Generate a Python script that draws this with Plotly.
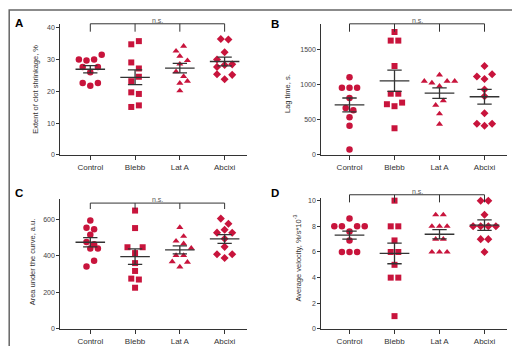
import numpy as np
import plotly.graph_objects as go

W, H = 520, 346

groups = ["Control", "Blebb", "Lat A", "Abcixi"]

# Panel A: extent of clot shrinkage, %
a_control = [30.0, 29.7, 30.0, 31.5, 27.7, 26.0, 27.7, 22.6, 21.8, 22.6]
a_blebb = [34.8, 35.8, 29.1, 27.2, 23.2, 24.6, 19.7, 19.2, 15.1, 15.6]
a_lata = [32.7, 34.2, 31.1, 29.7, 28.6, 26.2, 24.7, 22.6, 23.2, 20.2]
a_abcixi = [36.5, 36.3, 32.3, 30.0, 28.3, 27.7, 28.5, 25.4, 23.8, 25.2]
a_ticks = [0, 10, 20, 30, 40]
a_title = "Extent of clot shrinkage, %"

# Panel B: lag time, s
b_control = [1103, 953, 953, 953, 808, 668, 636, 537, 416, 79]
b_blebb = [1744, 1622, 1622, 1262, 869, 869, 720, 692, 743, 379]
b_lata = [1047, 1023, 1136, 977, 1047, 1047, 706, 771, 585, 437]
b_abcixi = [1262, 1112, 1079, 1145, 930, 832, 593, 444, 416, 444]
b_ticks = [0, 500, 1000, 1500]
b_title = "Lag time, s."

# Panel C: area under the curve, a.u.
c_control = [595, 555, 517, 546, 477, 441, 441, 464, 343, 374]
c_blebb = [649, 553, 448, 416, 448, 361, 318, 276, 271, 226]
c_lata = [557, 482, 508, 468, 443, 403, 369, 403, 340, 366]
c_abcixi = [605, 577, 528, 544, 527, 495, 450, 410, 389, 410]
c_ticks = [0, 200, 400, 600]
c_title = "Area under the curve, a.u."

# Panel D: average velocity, %/s*10^-3
d_control = [8.6, 8.0, 8.0, 7.6, 8.0, 8.0, 6.9, 6.0, 6.0, 6.0]
d_blebb = [10.0, 8.0, 8.0, 6.9, 6.0, 6.0, 5.0, 4.0, 4.0, 1.0]
d_lata = [8.9, 8.9, 8.0, 8.0, 8.0, 7.0, 7.0, 6.0, 6.0, 6.0]
d_abcixi = [10.0, 10.0, 8.9, 8.0, 8.0, 8.0, 8.0, 7.0, 7.0, 6.0]
d_ticks = [0, 2, 4, 6, 8, 10]
d_title = "Average velocity, %/s*10<sup>-3</sup>"

RED = "#C8143C"
INK = "#333333"
FONT = "Arial, Liberation Sans, sans-serif"
symbols = ["circle", "square", "triangle-up", "diamond"]
msizes = [6.5, 6, 6.2, 6.2]

panels = [
    dict(letter="A", data=[a_control, a_blebb, a_lata, a_abcixi], ticks=a_ticks, title=a_title,
         box=(52.3, 239.0, 147.7, 15.0), xr=(-0.67, 3.5), ytop=41.24,
         bracket=41.25, drop=8.0, title_xy=(26.7, 81.0), letter_xy=(11, 14)),
    dict(letter="B", data=[b_control, b_blebb, b_lata, b_abcixi], ticks=b_ticks, title=b_title,
         box=(313.3, 499.0, 147.7, 15.0), xr=(-0.627, 3.5), ytop=1860,
         bracket=1860, drop=8.0, title_xy=(279.0, 86.0), letter_xy=(267, 15)),
    dict(letter="C", data=[c_control, c_blebb, c_lata, c_abcixi], ticks=c_ticks, title=c_title,
         box=(52.3, 239.0, 323.7, 192.3), xr=(-0.67, 3.5), ytop=712,
         bracket=690, drop=6.0, title_xy=(24.3, 256.0), letter_xy=(10.5, 186.5)),
    dict(letter="D", data=[d_control, d_blebb, d_lata, d_abcixi], ticks=d_ticks, title=d_title,
         box=(313.3, 499.0, 323.7, 191.3), xr=(-0.627, 3.5), ytop=10.2,
         bracket=10.46, drop=7.7, title_xy=(289.5, 252.0), letter_xy=(267, 186)),
]


def swarm(vals, ppy, ppx, d_px=7.6, span_px=6.2, coll_px=5.3):
    n = len(vals)
    order = sorted(range(n), key=lambda k: -vals[k])
    rows = []
    for k in order:
        if rows and (vals[rows[-1][0]] - vals[k]) * ppy < span_px:
            rows[-1].append(k)
        else:
            rows.append([k])
    placed = []
    offs = [0.0] * n
    for row in rows:
        rs = sorted(row)
        m = len(rs)
        base = [(j - (m - 1) / 2) * d_px for j in range(m)]
        step = 0.0
        for s in range(60):
            step = ((s + 1) // 2) * (d_px / 2) * (1 if s % 2 == 1 else -1)
            ok = True
            for j, k in enumerate(rs):
                x = base[j] + step
                y = vals[k] * ppy
                for (px, py) in placed:
                    if ((x - px) ** 2 + (y - py) ** 2) ** 0.5 < coll_px:
                        ok = False
                        break
                if not ok:
                    break
            if ok:
                break
        for j, k in enumerate(rs):
            offs[k] = base[j] + step
            placed.append((offs[k], vals[k] * ppy))
    return [o / ppx for o in offs]


fig = go.Figure()
shapes = []
annotations = []

for pi, p in enumerate(panels):
    n = "" if pi == 0 else str(pi + 1)
    xa, ya = "x" + n, "y" + n
    left, right, bottom, top = p["box"]
    xdom = [left / W, right / W]
    ydom = [1 - bottom / H, 1 - top / H]
    ppx = (right - left) / (p["xr"][1] - p["xr"][0])
    ppy = (bottom - top) / p["ytop"]

    for gi, vals in enumerate(p["data"]):
        offs = swarm(vals, ppy, ppx)
        fig.add_trace(go.Scatter(
            x=[gi + o for o in offs], y=vals, mode="markers", xaxis=xa, yaxis=ya,
            marker=dict(symbol=symbols[gi], size=msizes[gi], color=RED, line=dict(width=0)),
            cliponaxis=False, showlegend=False, hoverinfo="skip"))

    # mean and SEM
    lx, ly = [], []
    for gi, vals in enumerate(p["data"]):
        v = np.array(vals, dtype=float)
        m = v.mean()
        sem = v.std(ddof=1) / np.sqrt(len(v))
        lx += [gi - 0.33, gi + 0.33, None, gi - 0.16, gi + 0.16, None,
               gi - 0.16, gi + 0.16, None, gi, gi, None]
        ly += [m, m, None, m + sem, m + sem, None, m - sem, m - sem, None,
               m - sem, m + sem, None]
    fig.add_trace(go.Scatter(x=lx, y=ly, mode="lines", xaxis=xa, yaxis=ya,
                             line=dict(color=INK, width=1.3), showlegend=False,
                             hoverinfo="skip", cliponaxis=False))

    fig.layout["xaxis" + n] = dict(
        domain=xdom, anchor=ya, range=list(p["xr"]), tickvals=[0, 1, 2, 3], ticktext=groups,
        showline=True, linecolor=INK, linewidth=1, ticks="outside", ticklen=4,
        tickcolor=INK, tickwidth=1, tickfont=dict(family=FONT, size=8, color="#333"),
        showgrid=False, zeroline=False, fixedrange=True)
    fig.layout["yaxis" + n] = dict(
        domain=ydom, anchor=xa, range=[0, p["ytop"]], tickvals=p["ticks"],
        showline=True, linecolor=INK, linewidth=1, ticks="outside", ticklen=3,
        tickcolor=INK, tickwidth=1, tickfont=dict(family=FONT, size=7, color="#444"),
        showgrid=False, zeroline=False, fixedrange=True)

    # n.s. bracket
    by_px = bottom - p["bracket"] * ppy
    by = 1 - by_px / H
    bd = 1 - (by_px + p["drop"]) / H
    shapes.append(dict(type="line", xref=xa, yref="paper", x0=0, x1=3, y0=by, y1=by,
                       line=dict(color=INK, width=1)))
    for gi in range(4):
        shapes.append(dict(type="line", xref=xa, yref="paper", x0=gi, x1=gi, y0=by, y1=bd,
                           line=dict(color=INK, width=1)))
    annotations.append(dict(text="n.s.", xref=xa, yref="paper", x=1.5, y=by,
                            yanchor="bottom", xanchor="center", showarrow=False, yshift=-2,
                            font=dict(family=FONT, size=7, color="#555")))
    # y-axis title
    tx, ty = p["title_xy"]
    annotations.append(dict(text=p["title"], xref="paper", yref="paper", x=tx / W, y=1 - ty / H,
                            xanchor="center", yanchor="middle", textangle=-90, showarrow=False,
                            font=dict(family=FONT, size=7.5, color="#333")))
    lx_, ly_ = p["letter_xy"]
    annotations.append(dict(text="<b>" + p["letter"] + "</b>", xref="paper", yref="paper",
                            x=lx_ / W, y=1 - ly_ / H, xanchor="center", yanchor="middle",
                            showarrow=False, font=dict(family=FONT, size=11.5, color="#000")))

# outer frame
shapes.append(dict(type="rect", xref="paper", yref="paper", x0=1.2 / W, x1=514 / W,
                   y0=1 - 343.5 / H, y1=1 - 1.0 / H, line=dict(color="#666", width=1.5)))

fig.update_layout(width=W, height=H, margin=dict(l=0, r=0, t=0, b=0),
                  paper_bgcolor="white", plot_bgcolor="white",
                  shapes=shapes, annotations=annotations, showlegend=False,
                  font=dict(family=FONT))

fig.write_html("out.html")
